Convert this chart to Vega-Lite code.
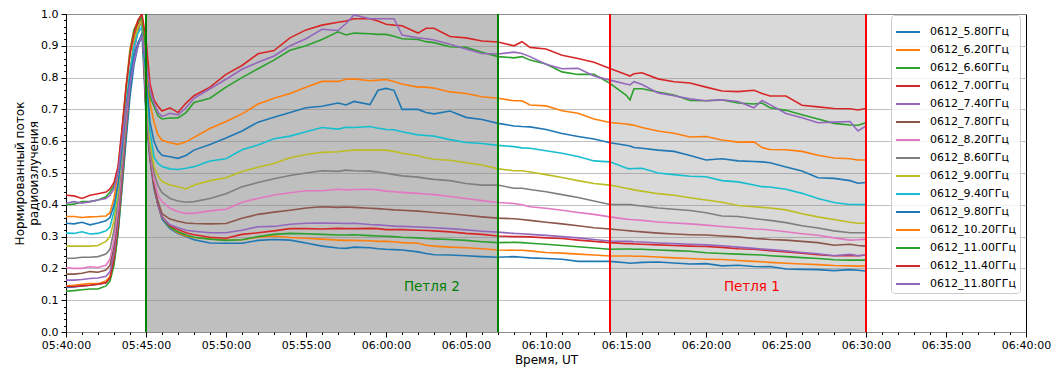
{
"$schema":"https://vega.github.io/schema/vega-lite/v6.json",
"width":960,"height":318,
"autosize":{"type":"none"},
"padding":{"left":66,"top":14,"right":30,"bottom":39},
"background":"white",
"config":{
 "font":"DejaVu Sans",
 "view":{"stroke":"black","strokeWidth":1},
 "axis":{"labelFont":"DejaVu Sans","labelFontSize":11,"labelColor":"black","titleFont":"DejaVu Sans","titleFontSize":12,"titleFontWeight":"normal","titleColor":"black","domain":false,"tickColor":"black","gridColor":"#b0b0b0","gridWidth":0.8,"tickSize":5},
 "legend":{"fillColor":"rgba(255,255,255,0.8)","strokeColor":"#cccccc","padding":4,"cornerRadius":3,"symbolType":"stroke","symbolStrokeWidth":2,"symbolSize":576,"labelFont":"DejaVu Sans","labelFontSize":11,"labelColor":"black","rowPadding":-6.6,"labelLimit":300,"labelOffset":9}
},
"resolve":{"axis":{"x":"independent","y":"independent"}},
"datasets":{
"flux":[
{"t":"2024-06-12T05:40:00","580":0.140,"620":0.145,"660":0.128,"700":0.143,"740":0.163,"780":0.182,"820":0.202,"860":0.232,"900":0.270,"940":0.311,"980":0.342,"1020":0.363,"1100":0.400,"1140":0.430,"1180":0.405},
{"t":"2024-06-12T05:40:30","580":0.142,"620":0.147,"660":0.130,"700":0.143,"740":0.163,"780":0.182,"820":0.200,"860":0.232,"900":0.270,"940":0.310,"980":0.340,"1020":0.363,"1100":0.402,"1140":0.428,"1180":0.410},
{"t":"2024-06-12T05:41:00","580":0.145,"620":0.150,"660":0.133,"700":0.145,"740":0.165,"780":0.185,"820":0.200,"860":0.235,"900":0.270,"940":0.315,"980":0.345,"1020":0.360,"1100":0.410,"1140":0.420,"1180":0.405},
{"t":"2024-06-12T05:41:30","580":0.147,"620":0.152,"660":0.135,"700":0.147,"740":0.168,"780":0.190,"820":0.205,"860":0.235,"900":0.270,"940":0.308,"980":0.337,"1020":0.362,"1100":0.410,"1140":0.430,"1180":0.410},
{"t":"2024-06-12T05:42:00","580":0.150,"620":0.152,"660":0.135,"700":0.150,"740":0.170,"780":0.188,"820":0.203,"860":0.237,"900":0.272,"940":0.310,"980":0.343,"1020":0.363,"1100":0.415,"1140":0.435,"1180":0.415},
{"t":"2024-06-12T05:42:30","580":0.155,"620":0.160,"660":0.145,"700":0.155,"740":0.175,"780":0.195,"820":0.210,"860":0.245,"900":0.285,"940":0.318,"980":0.350,"1020":0.365,"1100":0.425,"1140":0.440,"1180":0.420},
{"t":"2024-06-12T05:42:45","580":0.170,"620":0.175,"660":0.160,"700":0.170,"740":0.190,"780":0.210,"820":0.230,"860":0.260,"900":0.300,"940":0.330,"980":0.360,"1020":0.375,"1100":0.440,"1140":0.450,"1180":0.430},
{"t":"2024-06-12T05:43:00","580":0.220,"620":0.240,"660":0.210,"700":0.230,"740":0.250,"780":0.270,"820":0.290,"860":0.320,"900":0.350,"940":0.380,"980":0.400,"1020":0.420,"1100":0.460,"1140":0.470,"1180":0.450},
{"t":"2024-06-12T05:43:15","580":0.310,"620":0.340,"660":0.310,"700":0.330,"740":0.350,"780":0.370,"820":0.390,"860":0.420,"900":0.440,"940":0.460,"980":0.470,"1020":0.500,"1100":0.510,"1140":0.520,"1180":0.500},
{"t":"2024-06-12T05:43:30","580":0.450,"620":0.500,"660":0.460,"700":0.480,"740":0.490,"780":0.510,"820":0.530,"860":0.550,"900":0.570,"940":0.580,"980":0.580,"1020":0.630,"1100":0.630,"1140":0.640,"1180":0.600},
{"t":"2024-06-12T05:43:45","580":0.600,"620":0.650,"660":0.620,"700":0.640,"740":0.640,"780":0.660,"820":0.670,"860":0.690,"900":0.700,"940":0.710,"980":0.700,"1020":0.770,"1100":0.760,"1140":0.770,"1180":0.700},
{"t":"2024-06-12T05:44:00","580":0.740,"620":0.800,"660":0.780,"700":0.790,"740":0.780,"780":0.790,"820":0.800,"860":0.810,"900":0.820,"940":0.820,"980":0.800,"1020":0.890,"1100":0.880,"1140":0.870,"1180":0.780},
{"t":"2024-06-12T05:44:15","580":0.840,"620":0.920,"660":0.900,"700":0.900,"740":0.880,"780":0.890,"820":0.890,"860":0.900,"900":0.910,"940":0.900,"980":0.870,"1020":0.950,"1100":0.950,"1140":0.940,"1180":0.850},
{"t":"2024-06-12T05:44:30","580":0.900,"620":0.975,"660":0.980,"700":0.970,"740":0.950,"780":0.950,"820":0.950,"860":0.950,"900":0.960,"940":0.940,"980":0.910,"1020":0.980,"1100":0.975,"1140":0.980,"1180":0.900},
{"t":"2024-06-12T05:44:45","580":0.940,"620":1.000,"660":1.000,"700":1.000,"740":0.990,"780":0.990,"820":0.985,"860":0.980,"900":0.980,"940":0.960,"980":0.935,"1020":0.990,"1100":0.990,"1140":1.000,"1180":0.930},
{"t":"2024-06-12T05:45:00","580":0.680,"620":0.700,"660":0.700,"700":0.700,"740":0.700,"780":0.720,"820":0.740,"860":0.760,"900":0.780,"940":0.800,"980":0.820,"1020":0.850,"1100":0.880,"1140":0.920,"1180":0.850},
{"t":"2024-06-12T05:45:15","580":0.540,"620":0.550,"660":0.550,"700":0.550,"740":0.550,"780":0.560,"820":0.570,"860":0.580,"900":0.600,"940":0.630,"980":0.660,"1020":0.720,"1100":0.740,"1140":0.780,"1180":0.760},
{"t":"2024-06-12T05:45:30","580":0.450,"620":0.460,"660":0.460,"700":0.460,"740":0.460,"780":0.460,"820":0.480,"860":0.500,"900":0.520,"940":0.550,"980":0.600,"1020":0.660,"1100":0.710,"1140":0.730,"1180":0.720},
{"t":"2024-06-12T05:45:45","580":0.400,"620":0.400,"660":0.400,"700":0.400,"740":0.400,"780":0.410,"820":0.430,"860":0.460,"900":0.490,"940":0.530,"980":0.570,"1020":0.620,"1100":0.680,"1140":0.710,"1180":0.690},
{"t":"2024-06-12T05:46:00","580":0.355,"620":0.360,"660":0.360,"700":0.362,"740":0.360,"780":0.372,"820":0.410,"860":0.438,"900":0.473,"940":0.520,"980":0.556,"1020":0.603,"1100":0.670,"1140":0.695,"1180":0.678},
{"t":"2024-06-12T05:46:30","580":0.325,"620":0.330,"660":0.330,"700":0.334,"740":0.337,"780":0.355,"820":0.389,"860":0.420,"900":0.462,"940":0.513,"980":0.551,"1020":0.595,"1100":0.673,"1140":0.705,"1180":0.688},
{"t":"2024-06-12T05:47:00","580":0.310,"620":0.312,"660":0.315,"700":0.322,"740":0.328,"780":0.348,"820":0.378,"860":0.412,"900":0.457,"940":0.511,"980":0.546,"1020":0.590,"1100":0.673,"1140":0.690,"1180":0.683},
{"t":"2024-06-12T05:47:30","580":0.300,"620":0.302,"660":0.305,"700":0.312,"740":0.320,"780":0.343,"820":0.373,"860":0.408,"900":0.450,"940":0.515,"980":0.555,"1020":0.598,"1100":0.690,"1140":0.720,"1180":0.705},
{"t":"2024-06-12T05:48:00","580":0.290,"620":0.297,"660":0.298,"700":0.306,"740":0.317,"780":0.341,"820":0.373,"860":0.410,"900":0.462,"940":0.520,"980":0.572,"1020":0.612,"1100":0.722,"1140":0.743,"1180":0.735},
{"t":"2024-06-12T05:49:00","580":0.280,"620":0.293,"660":0.292,"700":0.298,"740":0.312,"780":0.340,"820":0.381,"860":0.420,"900":0.476,"940":0.538,"980":0.590,"1020":0.640,"1100":0.735,"1140":0.770,"1180":0.765},
{"t":"2024-06-12T05:50:00","580":0.279,"620":0.289,"660":0.288,"700":0.295,"740":0.312,"780":0.341,"820":0.386,"860":0.435,"900":0.485,"940":0.545,"980":0.610,"1020":0.662,"1100":0.770,"1140":0.810,"1180":0.795},
{"t":"2024-06-12T05:51:00","580":0.279,"620":0.290,"660":0.290,"700":0.307,"740":0.320,"780":0.358,"820":0.408,"860":0.457,"900":0.505,"940":0.573,"980":0.632,"1020":0.686,"1100":0.800,"1140":0.838,"1180":0.826},
{"t":"2024-06-12T05:52:00","580":0.288,"620":0.298,"660":0.300,"700":0.312,"740":0.331,"780":0.370,"820":0.420,"860":0.470,"900":0.518,"940":0.588,"980":0.660,"1020":0.717,"1100":0.828,"1140":0.875,"1180":0.848},
{"t":"2024-06-12T05:53:00","580":0.291,"620":0.302,"660":0.307,"700":0.318,"740":0.332,"780":0.377,"820":0.431,"860":0.482,"900":0.530,"940":0.608,"980":0.675,"1020":0.735,"1100":0.855,"1140":0.885,"1180":0.868},
{"t":"2024-06-12T05:54:00","580":0.289,"620":0.297,"660":0.310,"700":0.325,"740":0.339,"780":0.383,"820":0.438,"860":0.492,"900":0.548,"940":0.616,"980":0.690,"1020":0.750,"1100":0.886,"1140":0.925,"1180":0.900},
{"t":"2024-06-12T05:55:00","580":0.280,"620":0.295,"660":0.309,"700":0.325,"740":0.342,"780":0.390,"820":0.444,"860":0.500,"900":0.558,"940":0.630,"980":0.705,"1020":0.770,"1100":0.900,"1140":0.950,"1180":0.922},
{"t":"2024-06-12T05:56:00","580":0.270,"620":0.292,"660":0.307,"700":0.324,"740":0.343,"780":0.394,"820":0.444,"860":0.507,"900":0.565,"940":0.643,"980":0.710,"1020":0.788,"1100":0.920,"1140":0.965,"1180":0.952},
{"t":"2024-06-12T05:57:00","580":0.264,"620":0.289,"660":0.305,"700":0.326,"740":0.342,"780":0.392,"820":0.449,"860":0.505,"900":0.567,"940":0.638,"980":0.720,"1020":0.788,"1100":0.944,"1140":0.974,"1180":0.948},
{"t":"2024-06-12T05:57:30","580":0.263,"620":0.288,"660":0.305,"700":0.325,"740":0.341,"780":0.393,"820":0.447,"860":0.509,"900":0.570,"940":0.644,"980":0.714,"1020":0.795,"1100":0.934,"1140":0.978,"1180":0.970},
{"t":"2024-06-12T05:58:00","580":0.267,"620":0.288,"660":0.306,"700":0.325,"740":0.342,"780":0.392,"820":0.448,"860":0.507,"900":0.572,"940":0.643,"980":0.725,"1020":0.796,"1100":0.940,"1140":0.985,"1180":0.997},
{"t":"2024-06-12T05:59:00","580":0.265,"620":0.287,"660":0.303,"700":0.326,"740":0.338,"780":0.389,"820":0.449,"860":0.506,"900":0.572,"940":0.646,"980":0.715,"1020":0.790,"1100":0.938,"1140":0.985,"1180":0.985},
{"t":"2024-06-12T05:59:30","580":0.262,"620":0.285,"660":0.302,"700":0.325,"740":0.337,"780":0.388,"820":0.447,"860":0.503,"900":0.572,"940":0.641,"980":0.760,"1020":0.792,"1100":0.936,"1140":0.978,"1180":0.985},
{"t":"2024-06-12T06:00:00","580":0.260,"620":0.285,"660":0.301,"700":0.322,"740":0.335,"780":0.386,"820":0.443,"860":0.499,"900":0.572,"940":0.637,"980":0.766,"1020":0.794,"1100":0.936,"1140":0.968,"1180":0.985},
{"t":"2024-06-12T06:00:30","580":0.259,"620":0.284,"660":0.300,"700":0.322,"740":0.333,"780":0.384,"820":0.441,"860":0.495,"900":0.568,"940":0.636,"980":0.760,"1020":0.788,"1100":0.930,"1140":0.965,"1180":0.985},
{"t":"2024-06-12T06:01:00","580":0.258,"620":0.281,"660":0.298,"700":0.322,"740":0.332,"780":0.383,"820":0.439,"860":0.491,"900":0.562,"940":0.630,"980":0.700,"1020":0.780,"1100":0.922,"1140":0.963,"1180":0.934},
{"t":"2024-06-12T06:02:00","580":0.252,"620":0.279,"660":0.296,"700":0.320,"740":0.330,"780":0.380,"820":0.436,"860":0.487,"900":0.554,"940":0.620,"980":0.700,"1020":0.770,"1100":0.920,"1140":0.940,"1180":0.925},
{"t":"2024-06-12T06:02:30","580":0.247,"620":0.273,"660":0.294,"700":0.319,"740":0.329,"780":0.378,"820":0.434,"860":0.483,"900":0.548,"940":0.618,"980":0.690,"1020":0.770,"1100":0.913,"1140":0.955,"1180":0.922},
{"t":"2024-06-12T06:03:00","580":0.243,"620":0.270,"660":0.293,"700":0.318,"740":0.328,"780":0.376,"820":0.432,"860":0.480,"900":0.543,"940":0.616,"980":0.686,"1020":0.767,"1100":0.910,"1140":0.955,"1180":0.918},
{"t":"2024-06-12T06:04:00","580":0.242,"620":0.267,"660":0.291,"700":0.315,"740":0.325,"780":0.372,"820":0.426,"860":0.476,"900":0.540,"940":0.605,"980":0.695,"1020":0.755,"1100":0.897,"1140":0.929,"1180":0.905},
{"t":"2024-06-12T06:05:00","580":0.240,"620":0.265,"660":0.288,"700":0.310,"740":0.321,"780":0.367,"820":0.420,"860":0.467,"900":0.532,"940":0.596,"980":0.675,"1020":0.750,"1100":0.895,"1140":0.925,"1180":0.890},
{"t":"2024-06-12T06:06:00","580":0.237,"620":0.262,"660":0.284,"700":0.307,"740":0.317,"780":0.362,"820":0.413,"860":0.462,"900":0.525,"940":0.593,"980":0.668,"1020":0.740,"1100":0.880,"1140":0.915,"1180":0.876},
{"t":"2024-06-12T06:07:00","580":0.235,"620":0.258,"660":0.281,"700":0.302,"740":0.314,"780":0.358,"820":0.407,"860":0.462,"900":0.513,"940":0.587,"980":0.656,"1020":0.735,"1100":0.866,"1140":0.912,"1180":0.874},
{"t":"2024-06-12T06:08:00","580":0.237,"620":0.257,"660":0.282,"700":0.300,"740":0.310,"780":0.356,"820":0.404,"860":0.452,"900":0.507,"940":0.583,"980":0.648,"1020":0.727,"1100":0.862,"1140":0.900,"1180":0.880},
{"t":"2024-06-12T06:08:30","580":0.235,"620":0.257,"660":0.281,"700":0.300,"740":0.309,"780":0.354,"820":0.400,"860":0.452,"900":0.507,"940":0.579,"980":0.646,"1020":0.727,"1100":0.866,"1140":0.913,"1180":0.876},
{"t":"2024-06-12T06:09:00","580":0.233,"620":0.255,"660":0.279,"700":0.299,"740":0.307,"780":0.351,"820":0.394,"860":0.448,"900":0.503,"940":0.578,"980":0.645,"1020":0.714,"1100":0.855,"1140":0.895,"1180":0.866},
{"t":"2024-06-12T06:10:00","580":0.231,"620":0.250,"660":0.276,"700":0.296,"740":0.304,"780":0.345,"820":0.389,"860":0.441,"900":0.495,"940":0.570,"980":0.637,"1020":0.711,"1100":0.843,"1140":0.890,"1180":0.842},
{"t":"2024-06-12T06:11:00","580":0.229,"620":0.248,"660":0.272,"700":0.294,"740":0.300,"780":0.340,"820":0.383,"860":0.432,"900":0.486,"940":0.562,"980":0.624,"1020":0.696,"1100":0.818,"1140":0.870,"1180":0.828},
{"t":"2024-06-12T06:12:00","580":0.222,"620":0.245,"660":0.268,"700":0.289,"740":0.296,"780":0.334,"820":0.376,"860":0.423,"900":0.476,"940":0.552,"980":0.615,"1020":0.688,"1100":0.810,"1140":0.860,"1180":0.829},
{"t":"2024-06-12T06:13:00","580":0.222,"620":0.242,"660":0.264,"700":0.285,"740":0.291,"780":0.328,"820":0.370,"860":0.412,"900":0.467,"940":0.538,"980":0.607,"1020":0.670,"1100":0.810,"1140":0.848,"1180":0.805},
{"t":"2024-06-12T06:14:00","580":0.222,"620":0.239,"660":0.260,"700":0.281,"740":0.286,"780":0.324,"820":0.362,"860":0.401,"900":0.462,"940":0.535,"980":0.595,"1020":0.659,"1100":0.782,"1140":0.829,"1180":0.792},
{"t":"2024-06-12T06:15:00","580":0.218,"620":0.239,"660":0.261,"700":0.278,"740":0.285,"780":0.319,"820":0.355,"860":0.401,"900":0.452,"940":0.516,"980":0.587,"1020":0.654,"1100":0.745,"1140":0.810,"1180":0.780},
{"t":"2024-06-12T06:15:15","580":0.216,"620":0.239,"660":0.261,"700":0.278,"740":0.285,"780":0.318,"820":0.354,"860":0.401,"900":0.450,"940":0.513,"980":0.585,"1020":0.652,"1100":0.730,"1140":0.805,"1180":0.777},
{"t":"2024-06-12T06:15:30","580":0.217,"620":0.238,"660":0.260,"700":0.277,"740":0.284,"780":0.317,"820":0.353,"860":0.399,"900":0.447,"940":0.514,"980":0.580,"1020":0.650,"1100":0.765,"1140":0.812,"1180":0.787},
{"t":"2024-06-12T06:16:00","580":0.219,"620":0.238,"660":0.260,"700":0.276,"740":0.283,"780":0.315,"820":0.351,"860":0.396,"900":0.443,"940":0.515,"980":0.578,"1020":0.643,"1100":0.765,"1140":0.815,"1180":0.778},
{"t":"2024-06-12T06:17:00","580":0.220,"620":0.236,"660":0.258,"700":0.274,"740":0.280,"780":0.311,"820":0.346,"860":0.390,"900":0.435,"940":0.500,"980":0.572,"1020":0.632,"1100":0.755,"1140":0.796,"1180":0.752},
{"t":"2024-06-12T06:18:00","580":0.217,"620":0.233,"660":0.256,"700":0.272,"740":0.278,"780":0.308,"820":0.343,"860":0.386,"900":0.430,"940":0.495,"980":0.568,"1020":0.625,"1100":0.745,"1140":0.787,"1180":0.743},
{"t":"2024-06-12T06:19:00","580":0.214,"620":0.231,"660":0.254,"700":0.270,"740":0.276,"780":0.306,"820":0.340,"860":0.382,"900":0.422,"940":0.490,"980":0.555,"1020":0.613,"1100":0.728,"1140":0.783,"1180":0.733},
{"t":"2024-06-12T06:20:00","580":0.215,"620":0.229,"660":0.249,"700":0.269,"740":0.274,"780":0.305,"820":0.336,"860":0.375,"900":0.415,"940":0.488,"980":0.541,"1020":0.615,"1100":0.727,"1140":0.770,"1180":0.727},
{"t":"2024-06-12T06:21:00","580":0.208,"620":0.228,"660":0.247,"700":0.266,"740":0.271,"780":0.302,"820":0.332,"860":0.365,"900":0.408,"940":0.476,"980":0.545,"1020":0.604,"1100":0.730,"1140":0.758,"1180":0.730},
{"t":"2024-06-12T06:22:00","580":0.210,"620":0.225,"660":0.245,"700":0.262,"740":0.267,"780":0.299,"820":0.328,"860":0.363,"900":0.398,"940":0.472,"980":0.538,"1020":0.597,"1100":0.720,"1140":0.756,"1180":0.725},
{"t":"2024-06-12T06:23:00","580":0.206,"620":0.222,"660":0.243,"700":0.260,"740":0.263,"780":0.294,"820":0.324,"860":0.357,"900":0.394,"940":0.462,"980":0.536,"1020":0.598,"1100":0.717,"1140":0.760,"1180":0.705},
{"t":"2024-06-12T06:23:30","580":0.205,"620":0.221,"660":0.242,"700":0.258,"740":0.261,"780":0.293,"820":0.323,"860":0.354,"900":0.392,"940":0.457,"980":0.535,"1020":0.580,"1100":0.720,"1140":0.750,"1180":0.728},
{"t":"2024-06-12T06:24:00","580":0.206,"620":0.219,"660":0.240,"700":0.256,"740":0.259,"780":0.291,"820":0.321,"860":0.351,"900":0.390,"940":0.456,"980":0.532,"1020":0.574,"1100":0.705,"1140":0.742,"1180":0.715},
{"t":"2024-06-12T06:25:00","580":0.198,"620":0.216,"660":0.237,"700":0.252,"740":0.255,"780":0.289,"820":0.315,"860":0.344,"900":0.384,"940":0.449,"980":0.519,"1020":0.573,"1100":0.697,"1140":0.742,"1180":0.687},
{"t":"2024-06-12T06:26:00","580":0.197,"620":0.214,"660":0.234,"700":0.248,"740":0.250,"780":0.285,"820":0.309,"860":0.334,"900":0.372,"940":0.436,"980":0.506,"1020":0.568,"1100":0.683,"1140":0.713,"1180":0.674},
{"t":"2024-06-12T06:27:00","580":0.196,"620":0.212,"660":0.231,"700":0.243,"740":0.246,"780":0.281,"820":0.304,"860":0.327,"900":0.362,"940":0.420,"980":0.485,"1020":0.556,"1100":0.670,"1140":0.708,"1180":0.658},
{"t":"2024-06-12T06:28:00","580":0.193,"620":0.209,"660":0.227,"700":0.240,"740":0.240,"780":0.273,"820":0.296,"860":0.318,"900":0.354,"940":0.407,"980":0.483,"1020":0.547,"1100":0.656,"1140":0.703,"1180":0.660},
{"t":"2024-06-12T06:29:00","580":0.196,"620":0.208,"660":0.226,"700":0.241,"740":0.244,"780":0.276,"820":0.289,"860":0.312,"900":0.345,"940":0.401,"980":0.476,"1020":0.545,"1100":0.651,"1140":0.702,"1180":0.662},
{"t":"2024-06-12T06:29:30","580":0.194,"620":0.207,"660":0.226,"700":0.240,"740":0.240,"780":0.272,"820":0.290,"860":0.312,"900":0.342,"940":0.401,"980":0.468,"1020":0.541,"1100":0.650,"1140":0.698,"1180":0.632},
{"t":"2024-06-12T06:30:00","580":0.192,"620":0.208,"660":0.226,"700":0.242,"740":0.242,"780":0.270,"820":0.292,"860":0.312,"900":0.342,"940":0.401,"980":0.470,"1020":0.541,"1100":0.658,"1140":0.703,"1180":0.648}
]
},
"layer":[
 {"data":{"values":[{"t":"2024-06-12T05:45:00","t2":"2024-06-12T06:07:00"}]},
  "mark":{"type":"rect","color":"gray","opacity":0.5},
  "encoding":{
   "x":{"field":"t","type":"temporal",
    "scale":{"domain":[{"year":2024,"month":6,"date":12,"hours":5,"minutes":40},{"year":2024,"month":6,"date":12,"hours":6,"minutes":40}],"nice":false},
    "axis":{"orient":"bottom","title":null,"labels":false,"grid":false,"tickCount":60,"tickSize":2.5}},
   "x2":{"field":"t2"}}},
 {"data":{"values":[{"t":"2024-06-12T06:14:00","t2":"2024-06-12T06:30:00"}]},
  "mark":{"type":"rect","color":"gray","opacity":0.3},
  "encoding":{"x":{"field":"t","type":"temporal","axis":null},"x2":{"field":"t2"}}},
 {"data":{"name":"flux"},
  "transform":[{"fold":["580","620","660","700","740","780","820","860","900","940","980","1020","1100","1140","1180"],"as":["series","v"]}],
  "mark":{"type":"line","strokeWidth":1.6,"clip":true},
  "encoding":{
   "x":{"field":"t","type":"temporal","title":"Время, UT",
    "axis":{"orient":"bottom","format":"%H:%M:%S","labelOverlap":false,"labelFlush":false,"labelBound":false,"labelPadding":2,"titlePadding":4,"tickCount":12}},
   "y":{"field":"v","type":"quantitative","title":["Нормированный поток","радиоизлучения"],
    "scale":{"domain":[0,1],"nice":false},
    "axis":{"orient":"left","format":".1f","labelOverlap":false,"labelFlush":false,"labelBound":false,"labelPadding":3,"titlePadding":0,"tickCount":10}},
   "color":{"field":"series","type":"nominal",
    "scale":{"domain":["580","620","660","700","740","780","820","860","900","940","980","1020","1100","1140","1180"],
     "range":["#1f77b4","#ff7f0e","#2ca02c","#d62728","#9467bd","#8c564b","#e377c2","#7f7f7f","#bcbd22","#17becf","#1f77b4","#ff7f0e","#2ca02c","#d62728","#9467bd"]},
    "legend":{"title":null,"orient":"none","legendX":825,"legendY":1,"labelExpr":"'0612_' + format(toNumber(datum.label)/100, '.2f') + 'ГГц'"}}}},
 {"data":{"values":[{"t":"2024-06-12T05:45:00"},{"t":"2024-06-12T06:07:00"}]},
  "mark":{"type":"rule","color":"#008000","strokeWidth":2},
  "encoding":{"x":{"field":"t","type":"temporal","axis":null}}},
 {"data":{"values":[{"t":"2024-06-12T06:14:00"},{"t":"2024-06-12T06:30:00"}]},
  "mark":{"type":"rule","color":"#ff0000","strokeWidth":2},
  "encoding":{"x":{"field":"t","type":"temporal","axis":null}}},
 {"data":{"values":[{"t":"2024-06-12T06:02:52","v":0.142,"label":"Петля 2"}]},
  "mark":{"type":"text","color":"#008000","fontSize":13.5,"font":"DejaVu Sans","align":"center","baseline":"middle"},
  "encoding":{"x":{"field":"t","type":"temporal","axis":null},
   "y":{"field":"v","type":"quantitative","axis":{"orient":"left","title":null,"labels":false,"grid":false,"tickCount":50,"tickSize":2.5}},
   "text":{"field":"label"}}},
 {"data":{"values":[{"t":"2024-06-12T06:22:52","v":0.142,"label":"Петля 1"}]},
  "mark":{"type":"text","color":"#ff0000","fontSize":13.5,"font":"DejaVu Sans","align":"center","baseline":"middle"},
  "encoding":{"x":{"field":"t","type":"temporal","axis":null},"y":{"field":"v","type":"quantitative","axis":null},"text":{"field":"label"}}}
]
}
